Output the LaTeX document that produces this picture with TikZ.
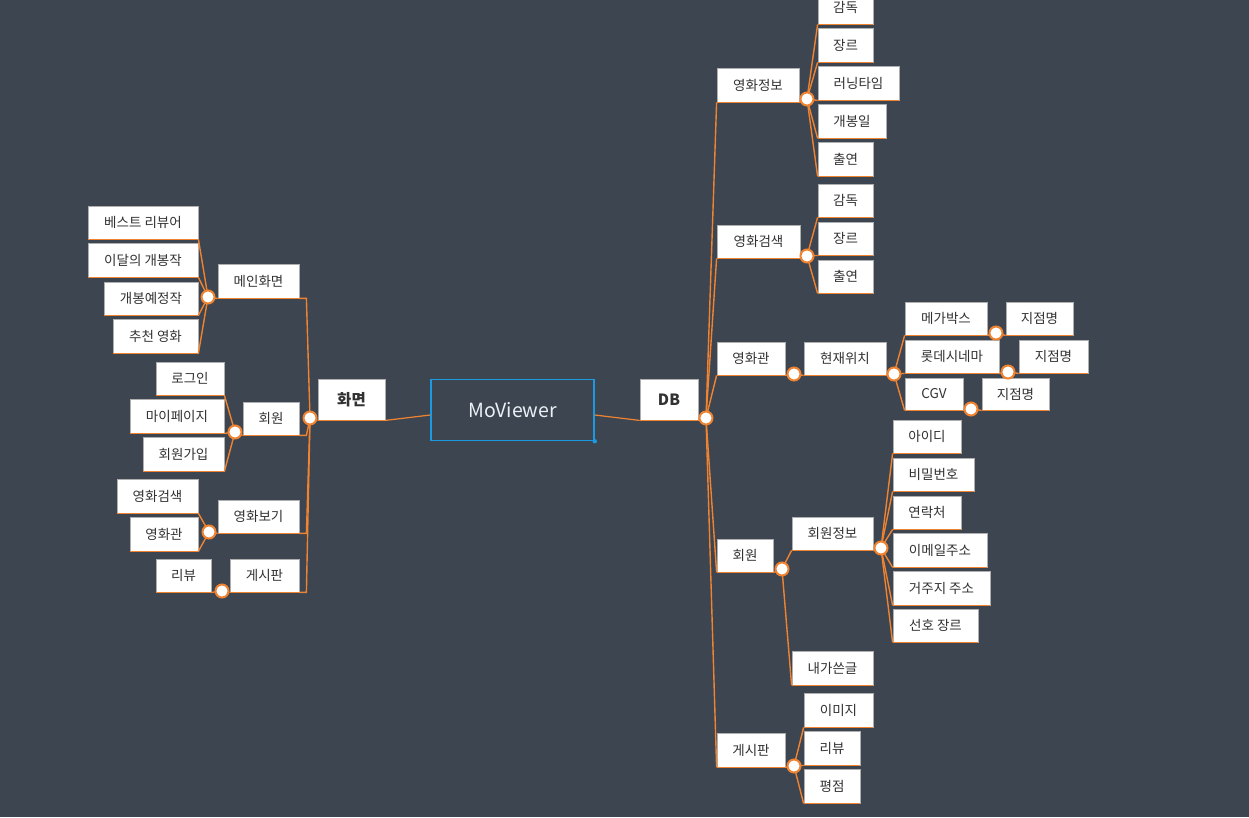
\documentclass[tikz,border=0pt]{standalone}
\usepackage{fontspec}
\setmainfont{Noto Sans CJK KR}
\definecolor{bg}{RGB}{61,69,80}
\definecolor{org}{RGB}{240,131,48}
\definecolor{blu}{RGB}{27,154,226}
\definecolor{bord}{RGB}{175,175,175}
\definecolor{txt}{RGB}{50,50,50}
\tikzset{
 box/.style={draw=bord,line width=0.8pt,fill=white,inner sep=0pt,text=txt,font=\fontsize{13.5}{15}\selectfont},
 bigbox/.style={font=\fontsize{15.5}{17}\selectfont\bfseries},
 ul/.style={draw=org,line width=1.4pt},
 conn/.style={draw=org,line width=1.4pt},
 knob/.style={circle,draw=org,fill=white,line width=2pt,minimum size=13pt,inner sep=0pt},
}
\newcommand\bx[7][]{%
 \node[box,#1,minimum width={#5-#3},minimum height={#6-#4}] (#2) at ({(#3+#5)/2},{(#4+#6)/2}) {#7};
 \draw[ul] (#2.south west) -- (#2.south east);}
\newcommand\kn[3]{\coordinate (#1) at (#2,#3);}
\begin{document}
\begin{tikzpicture}[x=1pt,y=-1pt]
\fill[bg] (0,0) rectangle (1249,817);
\useasboundingbox (0,0) rectangle (1249,817);
\clip (0,0) rectangle (1249,817);

% knobs
\kn{kH}{310}{418}
\kn{kMain}{208}{297}
\kn{kMem}{235}{432}
\kn{kView}{209}{532}
\kn{kBoard}{222}{591}
\kn{kDB}{706}{418}
\kn{kInfo}{807}{99}
\kn{kSearch}{807}{256}
\kn{kTheater}{794}{374}
\kn{kLoc}{894}{374}
\kn{kMega}{996}{333}
\kn{kLotte}{1008}{372}
\kn{kCgv}{971}{409}
\kn{kMember}{782}{569}
\kn{kMinfo}{881}{548}
\kn{kRBoard}{794}{766}

% center
\node[draw=blu,line width=1.5pt,minimum width=163,minimum height=61,inner sep=0pt,
 text={rgb,255:red,235;green,240;blue,245},font=\fontsize{19.5}{21}\selectfont] (mv) at (512.5,410) {MoViewer};
\fill[blu] (mv.south east) circle (2.2);

\bx[bigbox]{hw}{318}{379}{385}{420}{화면}
\bx[bigbox]{db}{640}{379}{698}{420}{DB}
\draw[conn,line width=1.2pt] (hw.south east) -- ([yshift=-5pt]mv.west);
\draw[conn,line width=1.2pt] ([yshift=-5pt]mv.east) -- (db.south west);

% left side
\bx{lmain}{218}{264}{299}{298}{메인화면}
\bx{lmem}{243}{402}{299}{435}{회원}
\bx{lview}{218}{500}{299}{533}{영화보기}
\bx{lboard}{230}{559}{299}{592}{게시판}

\bx{a1}{88}{206}{198}{239}{베스트 리뷰어}
\bx{a2}{88}{243}{198}{277}{이달의 개봉작}
\bx{a3}{104}{282}{198}{315}{개봉예정작}
\bx{a4}{113}{319}{198}{353}{추천 영화}

\bx{m1}{156}{362}{224}{395}{로그인}
\bx{m2}{130}{399}{224}{433}{마이페이지}
\bx{m3}{143}{437}{224}{471}{회원가입}

\bx{v1}{117}{479}{198}{513}{영화검색}
\bx{v2}{130}{517}{198}{551}{영화관}

\bx{g1}{156}{559}{211}{592}{리뷰}

% right side
\bx{rinfo}{717}{68}{799}{102}{영화정보}
\bx{rsearch}{717}{225}{800}{258}{영화검색}
\bx{rtheater}{717}{342}{785}{375}{영화관}
\bx{rmember}{717}{539}{773}{572}{회원}
\bx{rboard}{717}{733}{785}{767}{게시판}

\bx{i1}{818}{-9}{873}{24}{감독}
\bx{i2}{818}{28}{873}{62}{장르}
\bx{i3}{818}{66}{899}{100}{러닝타임}
\bx{i4}{818}{104}{886}{138}{개봉일}
\bx{i5}{818}{142}{873}{176}{출연}

\bx{s1}{818}{184}{873}{217}{감독}
\bx{s2}{818}{222}{873}{255}{장르}
\bx{s3}{818}{260}{873}{293}{출연}

\bx{loc}{804}{342}{886}{375}{현재위치}
\bx{t1}{905}{302}{987}{335}{메가박스}
\bx{t2}{905}{340}{999}{373}{롯데시네마}
\bx{t3}{905}{378}{963}{410}{CGV}
\bx{b1}{1006}{302}{1073}{335}{지점명}
\bx{b2}{1019}{340}{1088}{373}{지점명}
\bx{b3}{982}{378}{1049}{410}{지점명}

\bx{minfo}{792}{517}{873}{550}{회원정보}
\bx{mypost}{792}{651}{873}{685}{내가쓴글}
\bx{p1}{893}{420}{961}{453}{아이디}
\bx{p2}{893}{458}{974}{491}{비밀번호}
\bx{p3}{893}{496}{961}{529}{연락처}
\bx{p4}{893}{533}{987}{567}{이메일주소}
\bx{p5}{893}{571}{990}{605}{거주지 주소}
\bx{p6}{893}{609}{978}{642}{선호 장르}

\bx{q1}{804}{693}{873}{727}{이미지}
\bx{q2}{804}{731}{860}{765}{리뷰}
\bx{q3}{804}{769}{860}{803}{평점}

% connectors left
\draw[conn] (hw.south west) -- (kH);
\foreach \c in {lmain,lmem,lview,lboard}
  \draw[conn] (kH) -- ([xshift=7pt]\c.south east) -- (\c.south east);
\draw[conn] (lmain.south west) -- (kMain);
\foreach \c in {a1,a2,a3,a4} \draw[conn] (kMain) -- (\c.south east);
\draw[conn] (lmem.south west) -- (kMem);
\foreach \c in {m1,m2,m3} \draw[conn] (kMem) -- (\c.south east);
\draw[conn] (lview.south west) -- (kView);
\foreach \c in {v1,v2} \draw[conn] (kView) -- (\c.south east);
\draw[conn] (lboard.south west) -- (kBoard);
\draw[conn] (kBoard) -- (g1.south east);

% connectors right
\draw[conn] (db.south east) -- (kDB);
\foreach \c in {rinfo,rsearch,rtheater,rmember,rboard} \draw[conn] (kDB) -- (\c.south west);
\draw[conn] (rinfo.south east) -- (kInfo);
\foreach \c in {i1,i2,i3,i4,i5} \draw[conn] (kInfo) -- (\c.south west);
\draw[conn] (rsearch.south east) -- (kSearch);
\foreach \c in {s1,s2,s3} \draw[conn] (kSearch) -- (\c.south west);
\draw[conn] (rtheater.south east) -- (kTheater);
\draw[conn] (kTheater) -- (loc.south west);
\draw[conn] (loc.south east) -- (kLoc);
\foreach \c in {t1,t2,t3} \draw[conn] (kLoc) -- (\c.south west);
\draw[conn] (t1.south east) -- (kMega) -- (b1.south west);
\draw[conn] (t2.south east) -- (kLotte) -- (b2.south west);
\draw[conn] (t3.south east) -- (kCgv) -- (b3.south west);
\draw[conn] (rmember.south east) -- (kMember);
\foreach \c in {minfo,mypost} \draw[conn] (kMember) -- (\c.south west);
\draw[conn] (minfo.south east) -- (kMinfo);
\foreach \c in {p1,p2,p3,p4,p5,p6} \draw[conn] (kMinfo) -- (\c.south west);
\draw[conn] (rboard.south east) -- (kRBoard);
\foreach \c in {q1,q2,q3} \draw[conn] (kRBoard) -- (\c.south west);

% knobs on top
\foreach \k in {kH,kMain,kMem,kView,kBoard,kDB,kInfo,kSearch,kTheater,kLoc,kMega,kLotte,kCgv,kMember,kMinfo,kRBoard}
  \node[knob] at (\k) {};
\end{tikzpicture}
\end{document}
